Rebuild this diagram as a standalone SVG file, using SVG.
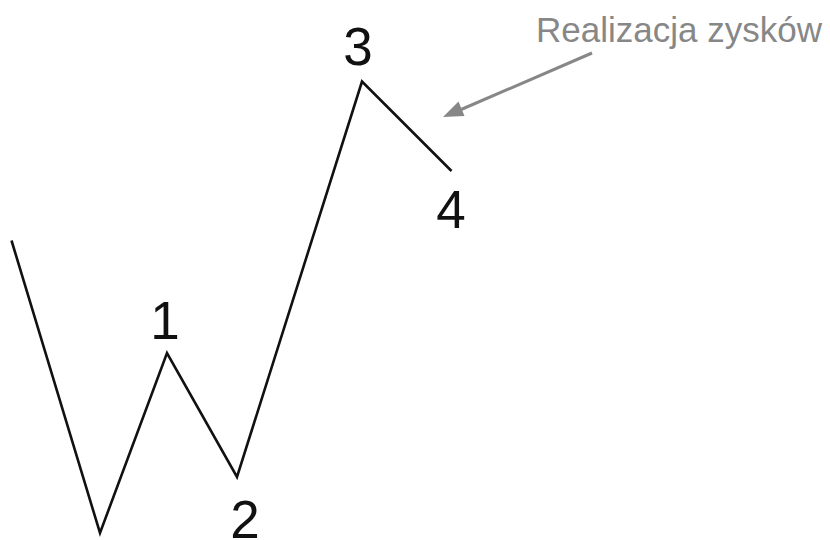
<svg xmlns="http://www.w3.org/2000/svg" width="830" height="540" viewBox="0 0 830 540">
<style>
.wave{fill:none;stroke:#111;stroke-width:2.6;stroke-linejoin:miter}
.num{font-family:"Liberation Sans",Arial,sans-serif;font-size:53px;fill:#111;text-anchor:middle}
.lbl{font-family:"Liberation Sans",Arial,sans-serif;font-size:35px;fill:#878787}
.arr{stroke:#878787;stroke-width:3;fill:none}
.head{fill:#878787}
</style>
<g id="connectors">
<polyline class="wave" points="11.5,240.5 100,533 167,353 237,477 362,81.5 451.5,171"/>
<line class="arr" x1="592" y1="53" x2="460" y2="110"/>
<polygon class="head" points="443,117 464.5,116 458.5,101.5"/>
</g>
<g id="n1"><text class="num" x="165" y="339">1</text></g>
<g id="n2"><text class="num" x="245" y="538">2</text></g>
<g id="n3"><text class="num" x="358" y="65">3</text></g>
<g id="n4"><text class="num" x="451" y="228">4</text></g>
<g id="label"><text class="lbl" x="536" y="42">Realizacja zysków</text></g>
</svg>
